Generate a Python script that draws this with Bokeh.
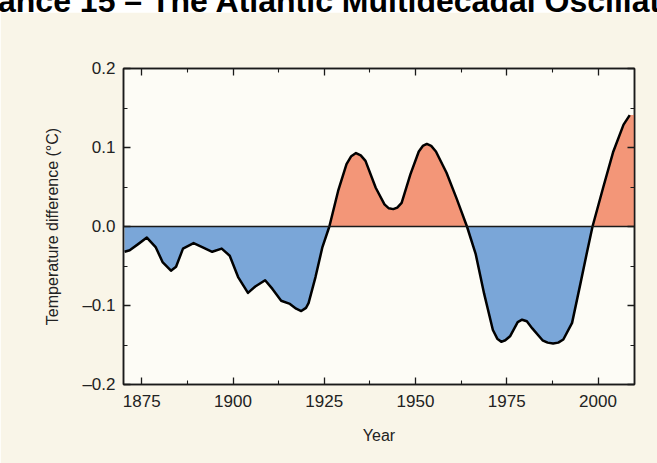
import numpy as np
from bokeh.plotting import figure
from bokeh.layouts import column
from bokeh.models import (LinearAxis, FixedTicker, CustomJSTickFormatter, BoxAnnotation,
                          Span, Range1d, Div)
from bokeh.embed import file_html
from bokeh.resources import INLINE

# ---------------- data ----------------
title_text = "ance 15 \u2013 The Atlantic Multidecadal Oscillat"
x_label = "Year"
y_label = "Temperature difference (\u00b0C)"
x_ticks = [1875, 1900, 1925, 1950, 1975, 2000]
x_minor = [1862.5, 1887.5, 1912.5, 1937.5, 1962.5, 1987.5, 2012.5]
y_ticks = [-0.2, -0.1, 0.0, 0.1, 0.2]
y_minor = [-0.15, -0.05, 0.05, 0.15]

years = [1870.3, 1871.7, 1874.1, 1876.4, 1878.8, 1880.7, 1883.0, 1884.4, 1886.3, 1889.2,
         1892.0, 1894.3, 1896.9, 1899.1, 1901.4, 1904.1, 1906.1, 1908.8, 1910.8, 1913.2,
         1915.6, 1917.3, 1918.7, 1920.0, 1920.7, 1922.6, 1924.5, 1926.4, 1928.8, 1931.1,
         1932.4, 1933.7, 1935.0, 1936.3, 1939.1, 1941.5, 1942.7, 1943.9, 1945.0, 1946.2,
         1948.6, 1950.9, 1952.0, 1953.1, 1954.3, 1955.6, 1958.5, 1961.3, 1964.1, 1966.5,
         1968.8, 1971.2, 1972.4, 1973.5, 1974.6, 1975.9, 1978.0, 1979.2, 1980.5, 1982.0,
         1984.8, 1986.2, 1987.7, 1989.1, 1990.5, 1992.9, 1995.2, 1997.1, 1998.5, 2001.4,
         2004.2, 2007.0, 2008.7]
amo = [-0.032, -0.030, -0.022, -0.014, -0.026, -0.045, -0.056, -0.051, -0.028, -0.021,
       -0.027, -0.032, -0.028, -0.037, -0.064, -0.084, -0.076, -0.068, -0.079, -0.094,
       -0.098, -0.104, -0.107, -0.103, -0.097, -0.064, -0.026, 0.0, 0.045, 0.079,
       0.089, 0.093, 0.090, 0.083, 0.049, 0.028, 0.023, 0.022, 0.024, 0.030,
       0.066, 0.095, 0.102, 0.1045, 0.102, 0.095, 0.068, 0.035, 0.0, -0.035,
       -0.085, -0.131, -0.142, -0.146, -0.144, -0.139, -0.121, -0.118, -0.120, -0.129,
       -0.144, -0.147, -0.148, -0.147, -0.143, -0.122, -0.072, -0.030, 0.0, 0.049,
       0.095, 0.129, 0.141]

X_START, X_END = 1870.0, 2010.0
Y_START, Y_END = -0.2, 0.2

# ---------------- styles ----------------
FONT = "Liberation Sans"
OUTER_BG = "#F9F5E8"
FRAME_BG = "#FDFCF6"
BLUE = "#7AA6D8"
SALMON = "#F39678"
INK = "#1a1a1a"
RULE = "#d0d0d0"

# heading strip (the page heading is cut by the top edge, as in the reference)
head = Div(text=("<div style=\"font: bold 32px 'Liberation Sans'; line-height: 32px; "
                 "white-space: nowrap; margin-top: -16px; margin-left: -2px; color: black;\">"
                 + title_text + "</div>"),
           width=657, height=12, margin=0,
           styles={"overflow": "hidden", "background-color": "white"})

p = figure(width=657, height=451, output_backend="svg", toolbar_location=None,
           x_range=Range1d(X_START, X_END), y_range=Range1d(Y_START, Y_END),
           min_border_left=123, min_border_right=23, min_border_top=56, min_border_bottom=79,
           background_fill_color=FRAME_BG, border_fill_color=OUTER_BG,
           outline_line_color=INK, outline_line_width=1.5, margin=0)
p.xgrid.visible = False
p.ygrid.visible = False

def canvas_box(l, r, t, b, color):
    return BoxAnnotation(left=l, right=r, top=t, bottom=b,
                         left_units="canvas", right_units="canvas",
                         top_units="canvas", bottom_units="canvas",
                         fill_color=color, fill_alpha=1.0, line_color=None,
                         level="annotation", propagate_hover=False)

p.add_layout(canvas_box(0, 21, 0, 451, "white"))
p.add_layout(canvas_box(6.5, 8, 0, 451, RULE))
p.add_layout(canvas_box(6.5, 657, 0, 1.5, RULE))

# fills
yr = np.array(years)
v = np.array(amo)
fx = np.append(yr, X_END)
fv = np.append(v, v[-1])
p.varea(x=fx, y1=np.minimum(fv, 0), y2=0, fill_color=BLUE)
p.varea(x=fx, y1=0, y2=np.maximum(fv, 0), fill_color=SALMON)
p.add_layout(Span(location=0, dimension="width", line_color=INK, line_width=1.5))
p.line(yr, v, line_color="black", line_width=2.5, line_join="round")

# axes
fmt_y = CustomJSTickFormatter(code="return (tick < -1e-9 ? '\\u2013' : '') + Math.abs(tick).toFixed(1);")
fmt_x = CustomJSTickFormatter(code="return tick.toFixed(0);")
blank = CustomJSTickFormatter(code="return '';")

def style_axis(ax):
    ax.axis_line_color = INK
    ax.axis_line_width = 1.5
    ax.major_tick_in = 7
    ax.major_tick_out = 0
    ax.minor_tick_in = 4
    ax.minor_tick_out = 0
    ax.major_tick_line_color = INK
    ax.minor_tick_line_color = INK
    ax.major_tick_line_width = 1.3
    ax.minor_tick_line_width = 1.1
    ax.major_label_text_font = FONT
    ax.major_label_text_font_size = "17px"
    ax.major_label_text_color = "#222222"
    ax.axis_label_text_font = FONT
    ax.axis_label_text_font_style = "normal"
    ax.axis_label_text_color = "#222222"

xb = p.xaxis[0]
xb.ticker = FixedTicker(ticks=x_ticks, minor_ticks=x_minor)
xb.formatter = fmt_x
style_axis(xb)
xb.major_label_standoff = 10
xb.axis_label = x_label
xb.axis_label_text_font_size = "16px"
xb.axis_label_standoff = 17

yl = p.yaxis[0]
yl.ticker = FixedTicker(ticks=y_ticks, minor_ticks=y_minor)
yl.formatter = fmt_y
style_axis(yl)
yl.major_label_standoff = 8
yl.axis_label = y_label
yl.axis_label_text_font_size = "16px"
yl.axis_label_standoff = 18

xt = LinearAxis(ticker=FixedTicker(ticks=x_ticks, minor_ticks=x_minor), formatter=blank)
style_axis(xt)
p.add_layout(xt, "above")
yr_ax = LinearAxis(ticker=FixedTicker(ticks=y_ticks, minor_ticks=y_minor), formatter=blank)
style_axis(yr_ax)
p.add_layout(yr_ax, "right")

layout = column(head, p, spacing=0, margin=0)
open("out.html", "w").write(file_html(layout, INLINE))
